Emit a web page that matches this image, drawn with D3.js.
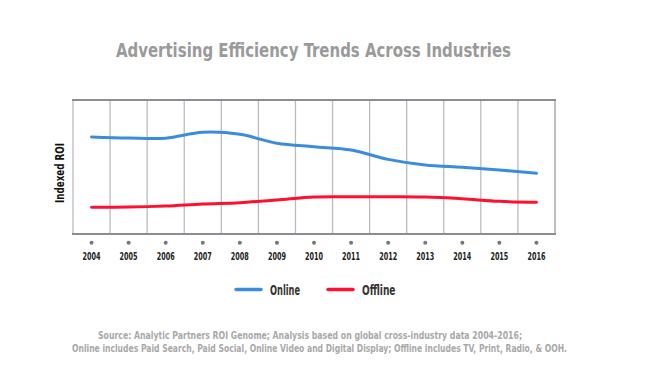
<!DOCTYPE html>
<html>
<head>
<meta charset="utf-8">
<script src="https://cdn.jsdelivr.net/npm/d3@7"></script>
<style>
  body { margin: 0; background: #fff; }
  svg text { font-family: "Liberation Sans Narrow", "DejaVu Sans Condensed", "Roboto", sans-serif; font-weight: bold; }
</style>
</head>
<body>
<svg id="chart" width="660" height="372"></svg>
<script>
const years = ["2004","2005","2006","2007","2008","2009","2010","2011","2012","2013","2014","2015","2016"];
const online = [72.4, 71.6, 71.5, 75.9, 74.4, 67.7, 65.1, 62.7, 55.7, 51.5, 49.8, 47.8, 45.3];
const offline = [19.9, 20.1, 20.9, 22.4, 23.4, 25.4, 27.6, 27.8, 27.8, 27.6, 26.3, 24.4, 23.7];
const seriesNames = ["Online", "Offline"];
const seriesColors = ["#3b8ddb", "#ff1030"];
const footnote = [
  "Source: Analytic Partners ROI Genome; Analysis based on global cross-industry data 2004-2016;",
  "Online includes Paid Search, Paid Social, Online Video and Digital Display; Offline includes TV, Print, Radio, & OOH."
];

const svg = d3.select("#chart");
const plot = {left: 73, right: 555, top: 100, bottom: 234};

const x = d3.scaleBand().domain(years).range([plot.left, plot.right]);
const y = d3.scaleLinear().domain([0, 100]).range([plot.bottom, plot.top]);
const cx = d => x(d) + x.bandwidth() / 2;

// title
svg.append("text").attr("x", 313.5).attr("y", 57).attr("text-anchor", "middle")
  .attr("font-size", "19px").attr("fill", "#9a9a9a")
  .attr("textLength", 395).attr("lengthAdjust", "spacingAndGlyphs")
  .text("Advertising Efficiency Trends Across Industries");

// vertical grid at band edges
svg.append("g").selectAll("line").data(years.slice(1)).join("line")
  .attr("x1", d => x(d)).attr("x2", d => x(d))
  .attr("y1", plot.top).attr("y2", plot.bottom)
  .attr("stroke", "#b8bcc0").attr("stroke-width", 1.3);

// frame
svg.append("line").attr("x1", plot.left).attr("x2", plot.left).attr("y1", plot.top).attr("y2", plot.bottom)
  .attr("stroke", "#b8bcc0").attr("stroke-width", 1.3);
svg.append("line").attr("x1", plot.right).attr("x2", plot.right).attr("y1", plot.top).attr("y2", plot.bottom)
  .attr("stroke", "#9a9ea2").attr("stroke-width", 1.3);
svg.append("line").attr("x1", plot.left - 1).attr("x2", plot.right + 1).attr("y1", plot.top).attr("y2", plot.top)
  .attr("stroke", "#8a8e92").attr("stroke-width", 2.2);
svg.append("line").attr("x1", plot.left - 1).attr("x2", plot.right + 1).attr("y1", plot.bottom).attr("y2", plot.bottom)
  .attr("stroke", "#8a8e92").attr("stroke-width", 2.2);

// y label
svg.append("text").attr("transform", "translate(64,173) rotate(-90)")
  .attr("text-anchor", "middle").attr("font-size", "12px").attr("fill", "#111")
  .attr("textLength", 60).attr("lengthAdjust", "spacingAndGlyphs")
  .text("Indexed ROI");

// x axis dots + labels
const xa = svg.append("g");
xa.selectAll("circle").data(years).join("circle")
  .attr("cx", cx).attr("cy", 242.7).attr("r", 2).attr("fill", "#777");
xa.selectAll("text").data(years).join("text")
  .attr("x", cx).attr("y", 259.5).attr("text-anchor", "middle")
  .attr("font-size", "10px").attr("fill", "#222")
  .attr("textLength", 18).attr("lengthAdjust", "spacingAndGlyphs")
  .text(d => d);

// lines
const line = d3.line().x((d, i) => cx(years[i])).y(d => y(d)).curve(d3.curveCatmullRom.alpha(0.5));
[online, offline].forEach((vals, k) => {
  svg.append("path").datum(vals).attr("d", line)
    .attr("fill", "none").attr("stroke", seriesColors[k]).attr("stroke-width", 3)
    .attr("stroke-linecap", "round");
});

// legend
const legendX = [236, 328];
const legendW = [30, 33.5];
seriesNames.forEach((name, k) => {
  svg.append("line").attr("x1", legendX[k]).attr("x2", legendX[k] + 25)
    .attr("y1", 289.5).attr("y2", 289.5)
    .attr("stroke", seriesColors[k]).attr("stroke-width", 3.5).attr("stroke-linecap", "round");
  svg.append("text").attr("x", legendX[k] + 34).attr("y", 295)
    .attr("font-size", "14px").attr("fill", "#333")
    .attr("textLength", legendW[k]).attr("lengthAdjust", "spacingAndGlyphs")
    .text(name);
});

// footnote
const footW = [424, 495];
svg.append("g").selectAll("text").data(footnote).join("text")
  .attr("x", (d, i) => i ? 319.5 : 310).attr("y", (d, i) => 339 + i * 12.5)
  .attr("text-anchor", "middle").attr("font-size", "10px").attr("fill", "#a8a8a8")
  .attr("textLength", (d, i) => footW[i]).attr("lengthAdjust", "spacingAndGlyphs")
  .text(d => d);
</script>
</body>
</html>
